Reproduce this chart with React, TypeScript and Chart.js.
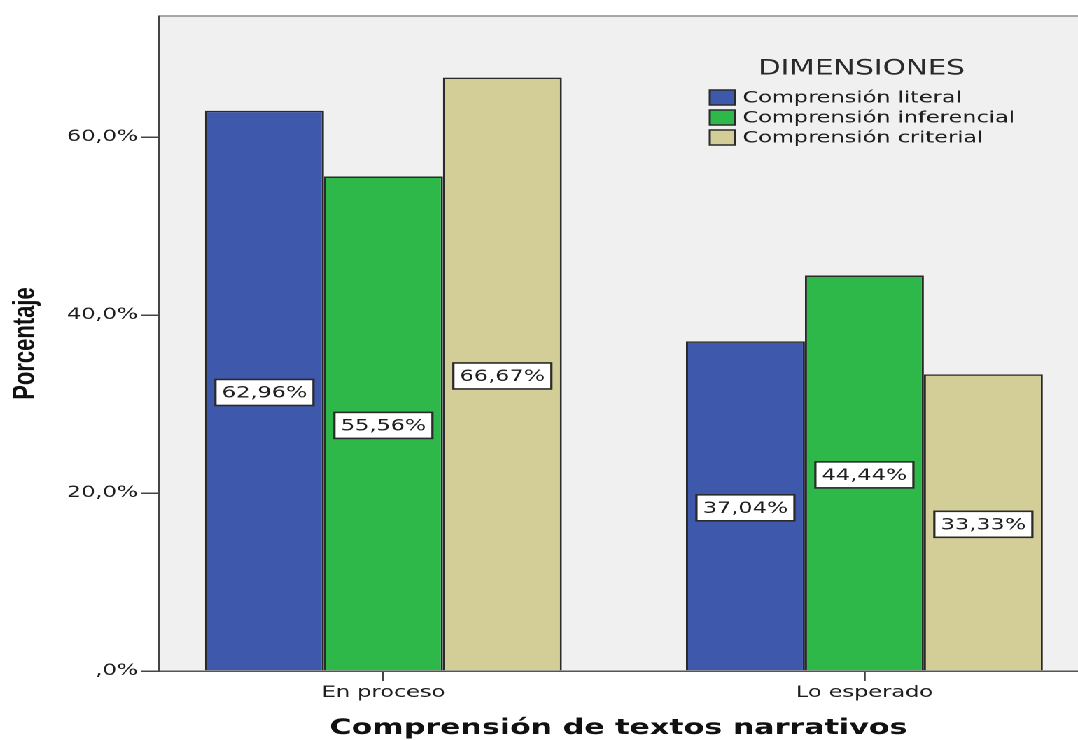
import { useEffect, useRef } from "react";
import { Chart, registerables } from "chart.js";

Chart.register(...registerables);

const categories = ["En proceso", "Lo esperado"];
const seriesNames = ["Comprensión literal", "Comprensión inferencial", "Comprensión criterial"];
const literal = [62.96, 37.04];
const inferencial = [55.56, 44.44];
const criterial = [66.67, 33.33];
const yTicks = [0, 20, 40, 60];
const legendTitle = "DIMENSIONES";
const xTitle = "Comprensión de textos narrativos";
const yTitle = "Porcentaje";

const seriesValues = [literal, inferencial, criterial];
const seriesColors = ["#3E58AC", "#2EB84A", "#D3CE97"];

const W = 770;
const H = 740;
const SX = 1078 / W;
const FONT = "'DejaVu Sans', sans-serif";
const TEXT = "#1E1E1E";

const fmt = (v: number) => v.toFixed(2).replace(".", ",") + "%";

const bgPlugin = {
  id: "bgPlugin",
  beforeDraw(chart: any) {
    const { ctx, chartArea: a } = chart;
    ctx.save();
    ctx.fillStyle = "#F0F0F0";
    ctx.fillRect(a.left, a.top, a.right - a.left, a.bottom - a.top);
    ctx.strokeStyle = "#8C8C8C";
    ctx.lineWidth = 1.5;
    ctx.beginPath();
    ctx.moveTo(a.left, a.top);
    ctx.lineTo(a.right, a.top);
    ctx.stroke();
    ctx.restore();
  },
};

const labelPlugin = {
  id: "labelPlugin",
  afterDatasetsDraw(chart: any) {
    const { ctx } = chart;
    ctx.save();
    ctx.font = `16px ${FONT}`;
    ctx.textAlign = "center";
    ctx.textBaseline = "middle";
    chart.data.datasets.forEach((ds: any, di: number) => {
      const meta = chart.getDatasetMeta(di);
      meta.data.forEach((el: any, i: number) => {
        const v = ds.data[i].y;
        const text = fmt(v);
        const tw = ctx.measureText(text).width;
        const w = tw + 9;
        const h = 26;
        const cx = el.x;
        const cy = (el.y + el.base) / 2 + 2;
        ctx.fillStyle = "#FFFFFF";
        ctx.fillRect(cx - w / 2, cy - h / 2, w, h);
        ctx.strokeStyle = "#2A2A2A";
        ctx.lineWidth = 1.6;
        ctx.strokeRect(cx - w / 2, cy - h / 2, w, h);
        ctx.fillStyle = TEXT;
        ctx.fillText(text, cx, cy + 1);
      });
    });
    ctx.restore();
  },
};

const legendPlugin = {
  id: "legendPlugin",
  afterDraw(chart: any) {
    const { ctx } = chart;
    ctx.save();
    ctx.fillStyle = "#2A2A2A";
    ctx.font = `21px ${FONT}`;
    ctx.textAlign = "left";
    ctx.textBaseline = "middle";
    ctx.fillText(legendTitle, 541.5, 69);
    ctx.font = `16px ${FONT}`;
    chart.data.datasets.forEach((ds: any, i: number) => {
      const cy = 97.5 + i * 20;
      ctx.fillStyle = ds.backgroundColor;
      ctx.fillRect(507, cy - 7.5, 18, 15);
      ctx.strokeStyle = "#2A2A2A";
      ctx.lineWidth = 1.5;
      ctx.strokeRect(507, cy - 7.5, 18, 15);
      ctx.fillStyle = TEXT;
      ctx.fillText(ds.label, 530.5, cy + 1);
    });
    ctx.restore();
  },
};

export default function App() {
  const ref = useRef<HTMLCanvasElement | null>(null);

  useEffect(() => {
    document.body.style.overflow = "hidden";
    const canvas = ref.current;
    if (!canvas) return;
    const chart = new Chart(canvas, {
      type: "bar",
      data: {
        datasets: seriesValues.map((vals, si) => ({
          label: seriesNames[si],
          data: vals.map((v, i) => ({ x: i, y: v })),
          backgroundColor: seriesColors[si],
          borderColor: "#2A2A2A",
          borderWidth: 1.5,
          categoryPercentage: 0.742,
          barPercentage: 1.0,
        })),
      },
      options: {
        responsive: false,
        animation: false,
        devicePixelRatio: 2,
        layout: { padding: { top: 16, left: 0, right: 0, bottom: 0 } },
        plugins: {
          legend: { display: false },
          tooltip: { enabled: false },
        },
        scales: {
          x: {
            type: "linear",
            bounds: "data",
            offset: false,
            min: -0.4665,
            max: 1.444,
            afterBuildTicks: (s: any) => {
              s.ticks = categories.map((_, i) => ({ value: i }));
            },
            afterFit: (s: any) => {
              s.height = 69;
            },
            ticks: {
              callback: (v: any) => categories[v] ?? "",
              autoSkip: false,
              maxRotation: 0,
              color: TEXT,
              font: { family: FONT, size: 16 },
              padding: 2,
            },
            grid: {
              offset: false,
              drawOnChartArea: false,
              drawTicks: true,
              tickLength: 10,
              color: "#444444",
              lineWidth: 1.4,
            },
            border: { display: true, color: "#555555", width: 1.5 },
            title: {
              display: true,
              text: xTitle,
              color: "#111111",
              font: { family: FONT, weight: "bold", size: 21.5, lineHeight: 1.1 },
              padding: { top: 0, bottom: 0 },
            },
          },
          y: {
            type: "linear",
            bounds: "data",
            min: 0,
            max: 73.6,
            afterBuildTicks: (s: any) => {
              s.ticks = yTicks.map((v) => ({ value: v }));
            },
            afterFit: (s: any) => {
              s.width = 113.6;
            },
            ticks: {
              callback: (v: any) => (v === 0 ? ",0%" : Number(v).toFixed(1).replace(".", ",") + "%"),
              color: TEXT,
              font: { family: FONT, size: 16 },
              padding: 2,
            },
            grid: {
              drawOnChartArea: false,
              drawTicks: true,
              tickLength: 13,
              color: "#444444",
              lineWidth: 1.5,
            },
            border: { display: true, color: "#444444", width: 1.5 },
            title: {
              display: true,
              text: yTitle,
              color: "#111111",
              font: { family: "'Liberation Sans', sans-serif", weight: "bold", size: 22 },
              padding: { top: 5, bottom: 0 },
            },
          },
        },
      },
      plugins: [bgPlugin, labelPlugin, legendPlugin],
    } as any);
    return () => chart.destroy();
  }, []);

  return (
    <div
      style={{
        position: "absolute",
        left: 0,
        top: 0,
        width: W,
        height: H,
        transform: `scaleX(${SX})`,
        transformOrigin: "0 0",
        background: "#FFFFFF",
      }}
    >
      <canvas ref={ref} width={W} height={H} style={{ width: W, height: H, display: "block" }} />
    </div>
  );
}
